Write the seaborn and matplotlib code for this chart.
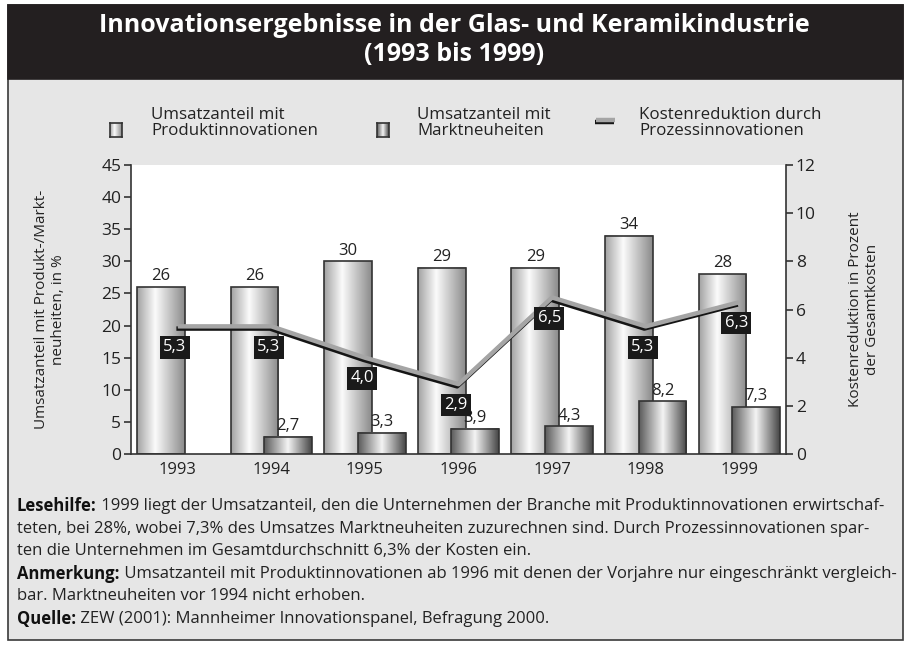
import numpy as np
import pandas as pd
import matplotlib
matplotlib.use("Agg")
import matplotlib.pyplot as plt
import matplotlib.patheffects as pe
from matplotlib.colors import LinearSegmentedColormap
from matplotlib.patches import Rectangle
from matplotlib.lines import Line2D
import seaborn as sns

years = [1993, 1994, 1995, 1996, 1997, 1998, 1999]
produkt = [26, 26, 30, 29, 29, 34, 28]
markt = [np.nan, 2.7, 3.3, 3.9, 4.3, 8.2, 7.3]
kosten = [5.3, 5.3, 4.0, 2.9, 6.5, 5.3, 6.3]

legend_labels = ["Umsatzanteil mit\nProduktinnovationen",
                 "Umsatzanteil mit\nMarktneuheiten",
                 "Kostenreduktion durch\nProzessinnovationen"]
title = "Innovationsergebnisse in der Glas- und Keramikindustrie\n(1993 bis 1999)"
footer = [
    ("Lesehilfe:", " 1999 liegt der Umsatzanteil, den die Unternehmen der Branche mit Produktinnovationen erwirtschaf-"),
    ("", "teten, bei 28%, wobei 7,3% des Umsatzes Marktneuheiten zuzurechnen sind. Durch Prozessinnovationen spar-"),
    ("", "ten die Unternehmen im Gesamtdurchschnitt 6,3% der Kosten ein."),
    ("Anmerkung:", " Umsatzanteil mit Produktinnovationen ab 1996 mit denen der Vorjahre nur eingeschränkt vergleich-"),
    ("", "bar. Marktneuheiten vor 1994 nicht erhoben."),
    ("Quelle:", " ZEW (2001): Mannheimer Innovationspanel, Befragung 2000."),
]

sns.set_theme(style="white")
plt.rcParams["font.family"] = ["Open Sans", "DejaVu Sans"]

W, H = 908, 645
fig = plt.figure(figsize=(W / 100, H / 100), dpi=100)
fig.patch.set_facecolor("white")

# panel + title band
fig.add_artist(Rectangle((8 / W, 5 / H), 895 / W, 635 / H, transform=fig.transFigure,
                         fc="#e6e6e6", ec="#3a3a3a", lw=1.2, zorder=-10))
fig.add_artist(Rectangle((8 / W, 1 - 79 / H), 895 / W, 74 / H, transform=fig.transFigure,
                         fc="#231f20", ec="#231f20", lw=1.2, zorder=-9))
fig.text(0.5, 1 - 40 / H, title, ha="center", va="center", color="white",
         fontsize=18, fontweight="bold", linespacing=1.2)

cmap_p = LinearSegmentedColormap.from_list("p", [(0, "#a2a2a2"), (0.38, "#fbfbfb"), (1, "#8a8a8a")])
cmap_m = LinearSegmentedColormap.from_list("m", [(0, "#5a5a5a"), (0.5, "#f4f4f4"), (1, "#454545")])
grad = np.linspace(0, 1, 256)[None, :]

ax = fig.add_axes([131 / W, 191 / H, 655 / W, 289 / H])
ax.set_facecolor("white")

df_p = pd.DataFrame({"x": np.array(years) - 0.18, "y": produkt})
df_m = pd.DataFrame({"x": np.array(years) + 0.18, "y": markt}).dropna()
sns.barplot(data=df_p, x="x", y="y", native_scale=True, width=0.51, errorbar=None,
            color="#cccccc", edgecolor="#333333", linewidth=1.2, zorder=2, ax=ax)
sns.barplot(data=df_m, x="x", y="y", native_scale=True, width=0.51, errorbar=None,
            color="#888888", edgecolor="#333333", linewidth=1.2, zorder=3, ax=ax)

def fmt(v):
    return f"{v:g}".replace(".", ",")

for cont, cmap, vals in [(ax.containers[0], cmap_p, df_p["y"]), (ax.containers[1], cmap_m, df_m["y"])]:
    for patch in cont:
        x0, w, h = patch.get_x(), patch.get_width(), patch.get_height()
        ax.imshow(grad, cmap=cmap, extent=(x0, x0 + w, 0, h), aspect="auto",
                  zorder=patch.get_zorder() - 0.1)
        patch.set_facecolor("none")
    ax.bar_label(cont, labels=[fmt(v) for v in vals], padding=2, fontsize=12,
                 color="#222222", zorder=6)

ax.set_xlim(1992.5, 1999.5)
ax.set_ylim(0, 45)
ax.set_xticks(years)
ax.set_xticklabels([str(y) for y in years])
ax.set_xticks(np.arange(1993.5, 1999, 1), minor=True)
ax.set_yticks(range(0, 46, 5))
ax.tick_params(axis="x", which="major", length=0, pad=6, labelsize=12, colors="#222222")
ax.tick_params(axis="x", which="minor", length=6, width=1.2, color="#333333", direction="out")
ax.tick_params(axis="y", length=5, width=1.2, color="#333333", direction="out",
               labelsize=12.5, labelcolor="#222222", pad=2, left=True)
ax.set_xlabel("")
ax.set_ylabel("Umsatzanteil mit Produkt-/Markt-\nneuheiten, in %", fontsize=11, color="#222222")
ax.yaxis.set_label_coords(-0.099, 0.5)
for s in ["top", "right"]:
    ax.spines[s].set_visible(False)
for s in ["left", "bottom"]:
    ax.spines[s].set_color("#333333")
    ax.spines[s].set_linewidth(1.2)

ax2 = ax.twinx()
shadow = [pe.SimpleLineShadow(offset=(-1, -1.6), shadow_color="#151515", alpha=1), pe.Normal()]
sns.lineplot(x=years, y=kosten, ax=ax2, color="#a5a5a5", linewidth=3.2,
             solid_capstyle="butt", path_effects=shadow, zorder=4)
for x, v in zip(years, kosten):
    ax2.annotate(f"{v:.1f}".replace(".", ","), (x, v), xytext=(-2, -15), textcoords="offset points",
                 ha="center", va="center", color="white", fontsize=12, zorder=7,
                 bbox=dict(boxstyle="square,pad=0.2", fc="#1a1a1a", ec="none"))
ax2.set_ylim(0, 12)
ax2.set_xlim(1992.5, 1999.5)
ax2.set_yticks(range(0, 13, 2))
ax2.tick_params(axis="y", length=5, width=1.2, color="#333333", direction="out",
                labelsize=12.5, labelcolor="#222222", pad=2, right=True)
ax2.set_ylabel("Kostenreduktion in Prozent\nder Gesamtkosten", fontsize=11, color="#222222")
ax2.yaxis.set_label_coords(1.095, 0.5)
for s in ["top", "left", "bottom"]:
    ax2.spines[s].set_visible(False)
ax2.spines["right"].set_color("#333333")
ax2.spines["right"].set_linewidth(1.2)

# legend
for i, (mx, tx) in enumerate([(110, 151), (377, 417), (596, 639)]):
    fig.text(tx / W, 1 - 123 / H, legend_labels[i], ha="left", va="center",
             fontsize=12.2, color="#222222", linespacing=1.0)
    if i < 2:
        lax = fig.add_axes([mx / W, 1 - 137 / H, 12 / W, 14 / H])
        lax.imshow(grad, cmap=[cmap_p, cmap_m][i], aspect="auto")
        lax.set_xticks([])
        lax.set_yticks([])
        for s in lax.spines.values():
            s.set_color("#333333")
            s.set_linewidth(1.2)
    else:
        fig.add_artist(Line2D([mx / W, (mx + 19) / W], [1 - 120 / H] * 2, transform=fig.transFigure,
                              color="#a5a5a5", lw=3.2, solid_capstyle="butt", path_effects=shadow))

# footer
for i, (bold, rest) in enumerate(footer):
    y = 1 - (506 + i * 22.6) / H
    t = fig.text(17 / W, y, bold, ha="left", va="center", fontsize=11.95,
                 fontweight="bold", color="#111111")
    if bold:
        ax.annotate(rest, xy=(1, 0.5), xycoords=t, ha="left", va="center",
                    fontsize=11.95, color="#222222", annotation_clip=False)
    else:
        fig.text(17 / W, y, rest, ha="left", va="center", fontsize=11.95, color="#222222")

fig.savefig("out.png", dpi=100)
